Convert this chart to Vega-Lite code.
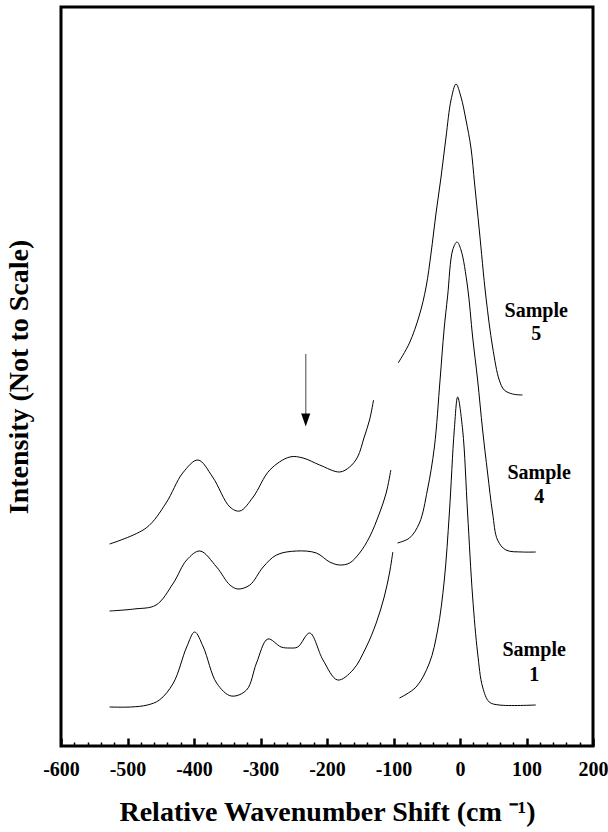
{
  "$schema": "https://vega.github.io/schema/vega-lite/v6.json",
  "autosize": {"type": "none"},
  "padding": {"left": 61, "top": 7, "right": 15, "bottom": 86},
  "width": 532,
  "height": 739,
  "background": "white",
  "config": {
    "view": {"stroke": "black", "strokeWidth": 3},
    "font": "Liberation Serif"
  },
  "resolve": {"axis": {"x": "independent"}},
  "datasets": {
    "curves": [
      {"s": "1a", "x": -527, "y": 39}, {"s": "1a", "x": -495, "y": 39}, {"s": "1a", "x": -470, "y": 41},
      {"s": "1a", "x": -452, "y": 46}, {"s": "1a", "x": -431, "y": 63}, {"s": "1a", "x": -411, "y": 99},
      {"s": "1a", "x": -399, "y": 114},
      {"s": "1a", "x": -386, "y": 99}, {"s": "1a", "x": -366, "y": 63}, {"s": "1a", "x": -344, "y": 50},
      {"s": "1a", "x": -321, "y": 56}, {"s": "1a", "x": -306, "y": 83}, {"s": "1a", "x": -289, "y": 107},
      {"s": "1a", "x": -269, "y": 99}, {"s": "1a", "x": -256, "y": 98}, {"s": "1a", "x": -244, "y": 99},
      {"s": "1a", "x": -226, "y": 113}, {"s": "1a", "x": -206, "y": 86}, {"s": "1a", "x": -184, "y": 66},
      {"s": "1a", "x": -161, "y": 76}, {"s": "1a", "x": -141, "y": 99}, {"s": "1a", "x": -126, "y": 123},
      {"s": "1a", "x": -114, "y": 149}, {"s": "1a", "x": -106, "y": 173}, {"s": "1a", "x": -101, "y": 194},
      {"s": "1b", "x": -91, "y": 48}, {"s": "1b", "x": -66, "y": 59}, {"s": "1b", "x": -46, "y": 83},
      {"s": "1b", "x": -33.6, "y": 116}, {"s": "1b", "x": -23.6, "y": 166}, {"s": "1b", "x": -16, "y": 233},
      {"s": "1b", "x": -8.6, "y": 316}, {"s": "1b", "x": -3.5, "y": 349}, {"s": "1b", "x": 4, "y": 316},
      {"s": "1b", "x": 11.4, "y": 233}, {"s": "1b", "x": 19, "y": 149}, {"s": "1b", "x": 26.5, "y": 93},
      {"s": "1b", "x": 34, "y": 59}, {"s": "1b", "x": 44, "y": 44}, {"s": "1b", "x": 59, "y": 41},
      {"s": "1b", "x": 114, "y": 41},
      {"s": "4a", "x": -527, "y": 135}, {"s": "4a", "x": -490, "y": 137}, {"s": "4a", "x": -457, "y": 141},
      {"s": "4a", "x": -431, "y": 163},
      {"s": "4a", "x": -411, "y": 186}, {"s": "4a", "x": -391, "y": 195}, {"s": "4a", "x": -366, "y": 179},
      {"s": "4a", "x": -346, "y": 161}, {"s": "4a", "x": -334, "y": 157}, {"s": "4a", "x": -316, "y": 161},
      {"s": "4a", "x": -296, "y": 179}, {"s": "4a", "x": -276, "y": 191}, {"s": "4a", "x": -246, "y": 195},
      {"s": "4a", "x": -216, "y": 193}, {"s": "4a", "x": -196, "y": 184}, {"s": "4a", "x": -181, "y": 181},
      {"s": "4a", "x": -166, "y": 183}, {"s": "4a", "x": -151, "y": 193}, {"s": "4a", "x": -136, "y": 209},
      {"s": "4a", "x": -121, "y": 233}, {"s": "4a", "x": -111, "y": 253}, {"s": "4a", "x": -104, "y": 276},
      {"s": "4b", "x": -94, "y": 203}, {"s": "4b", "x": -76, "y": 208}, {"s": "4b", "x": -61, "y": 223},
      {"s": "4b", "x": -49, "y": 256}, {"s": "4b", "x": -38.5, "y": 299}, {"s": "4b", "x": -30, "y": 366},
      {"s": "4b", "x": -24, "y": 416}, {"s": "4b", "x": -18.6, "y": 450}, {"s": "4b", "x": -11, "y": 496},
      {"s": "4b", "x": -4.5, "y": 504}, {"s": "4b", "x": 1.5, "y": 496}, {"s": "4b", "x": 11.4, "y": 459},
      {"s": "4b", "x": 19, "y": 409}, {"s": "4b", "x": 26.5, "y": 366}, {"s": "4b", "x": 34, "y": 316},
      {"s": "4b", "x": 41.5, "y": 273}, {"s": "4b", "x": 49, "y": 233}, {"s": "4b", "x": 56.5, "y": 206},
      {"s": "4b", "x": 69, "y": 196}, {"s": "4b", "x": 94, "y": 194}, {"s": "4b", "x": 114, "y": 194},
      {"s": "5a", "x": -527, "y": 202}, {"s": "5a", "x": -472, "y": 218}, {"s": "5a", "x": -442, "y": 243},
      {"s": "5a", "x": -417, "y": 273}, {"s": "5a", "x": -394, "y": 286}, {"s": "5a", "x": -372, "y": 269},
      {"s": "5a", "x": -346, "y": 239}, {"s": "5a", "x": -331, "y": 235}, {"s": "5a", "x": -311, "y": 249},
      {"s": "5a", "x": -286, "y": 276}, {"s": "5a", "x": -256, "y": 289}, {"s": "5a", "x": -236, "y": 288},
      {"s": "5a", "x": -211, "y": 281}, {"s": "5a", "x": -181, "y": 274}, {"s": "5a", "x": -166, "y": 279},
      {"s": "5a", "x": -154, "y": 289}, {"s": "5a", "x": -144, "y": 309}, {"s": "5a", "x": -136, "y": 326},
      {"s": "5a", "x": -130, "y": 346},
      {"s": "5b", "x": -93, "y": 383}, {"s": "5b", "x": -76, "y": 403}, {"s": "5b", "x": -61, "y": 431},
      {"s": "5b", "x": -51, "y": 459}, {"s": "5b", "x": -43.5, "y": 493}, {"s": "5b", "x": -36, "y": 533},
      {"s": "5b", "x": -28.5, "y": 569}, {"s": "5b", "x": -21, "y": 609}, {"s": "5b", "x": -13.5, "y": 646},
      {"s": "5b", "x": -6, "y": 662}, {"s": "5b", "x": 1.5, "y": 649}, {"s": "5b", "x": 9, "y": 626},
      {"s": "5b", "x": 16.5, "y": 598}, {"s": "5b", "x": 22, "y": 562}, {"s": "5b", "x": 29, "y": 516},
      {"s": "5b", "x": 39, "y": 449}, {"s": "5b", "x": 49, "y": 399}, {"s": "5b", "x": 59, "y": 366},
      {"s": "5b", "x": 66.5, "y": 356}, {"s": "5b", "x": 79, "y": 352}, {"s": "5b", "x": 94, "y": 351}
    ],
    "arrow": [{"x": -232, "y": 392, "y2": 330, "yh": 326}],
    "labels": [
      {"x": 114.6, "y": 435, "t": "Sample"}, {"x": 114.6, "y": 412, "t": "5"},
      {"x": 119, "y": 273, "t": "Sample"}, {"x": 119, "y": 249, "t": "4"},
      {"x": 111.5, "y": 96, "t": "Sample"}, {"x": 111.5, "y": 71, "t": "1"}
    ]
  },
  "layer": [
    {
      "data": {"name": "curves"},
      "mark": {"type": "line", "color": "black", "strokeWidth": 1, "interpolate": "catmull-rom"},
      "encoding": {
        "x": {
          "field": "x", "type": "quantitative",
          "scale": {"domain": [-600, 200], "nice": false, "zero": false},
          "axis": {
            "orient": "bottom",
            "title": "Relative Wavenumber Shift (cm ⁻¹)",
            "titleFont": "Liberation Serif", "titleFontWeight": "bold", "titleFontSize": 28, "titleColor": "black",
            "titlePadding": 19,
            "values": [-600, -500, -400, -300, -200, -100, 0, 100, 200],
            "labelExpr": "'' + datum.value",
            "labelFont": "Liberation Serif", "labelFontWeight": "bold", "labelFontSize": 20, "labelColor": "black",
            "labelPadding": 21, "labelFlush": false, "labelOverlap": false, "labelBound": false,
            "domain": false, "grid": false,
            "tickColor": "black", "tickSize": -8, "tickWidth": 2.5
          }
        },
        "y": {
          "field": "y", "type": "quantitative",
          "scale": {"domain": [0, 739], "nice": false, "zero": false},
          "axis": {
            "title": "Intensity (Not to Scale)",
            "titleFont": "Liberation Serif", "titleFontWeight": "bold", "titleFontSize": 28, "titleColor": "black",
            "titlePadding": 28,
            "labels": false, "ticks": false, "domain": false, "grid": false
          }
        },
        "detail": {"field": "s", "type": "nominal"}
      }
    },
    {
      "data": {"name": "arrow"},
      "mark": {"type": "rule", "color": "#808080", "strokeWidth": 1.5},
      "encoding": {
        "x": {
          "field": "x", "type": "quantitative",
          "axis": {
            "orient": "bottom", "title": null, "labels": false, "domain": false, "grid": false,
            "values": [-580, -560, -540, -520, -480, -460, -440, -420, -380, -360, -340, -320, -280, -260, -240, -220, -180, -160, -140, -120, -80, -60, -40, -20, 20, 40, 60, 80, 120, 140, 160, 180],
            "tickColor": "black", "tickSize": -4, "tickWidth": 1.5
          }
        },
        "y": {"field": "y", "type": "quantitative"},
        "y2": {"field": "y2"}
      }
    },
    {
      "data": {"name": "arrow"},
      "mark": {"type": "point", "shape": "M-0.7,-1L0.7,-1L0,1Z", "filled": true, "color": "black", "opacity": 1, "size": 169},
      "encoding": {
        "x": {"field": "x", "type": "quantitative", "axis": null},
        "y": {"field": "yh", "type": "quantitative"}
      }
    },
    {
      "data": {"name": "labels"},
      "mark": {"type": "text", "font": "Liberation Serif", "fontWeight": "bold", "fontSize": 20, "color": "black", "align": "center", "baseline": "middle"},
      "encoding": {
        "x": {"field": "x", "type": "quantitative", "axis": null},
        "y": {"field": "y", "type": "quantitative"},
        "text": {"field": "t", "type": "nominal"}
      }
    }
  ]
}
